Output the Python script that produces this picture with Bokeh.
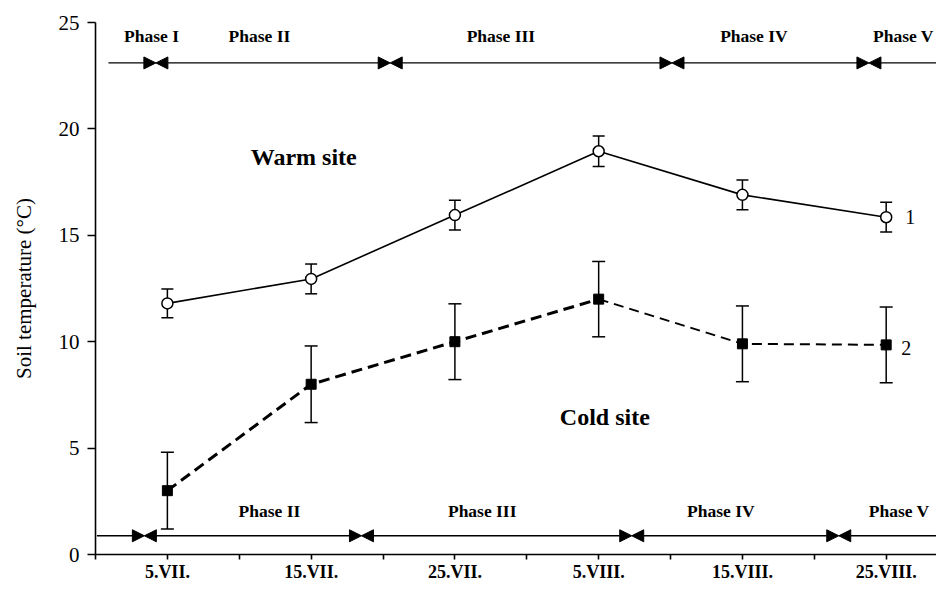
from bokeh.plotting import figure
from bokeh.models import (ColumnDataSource, Whisker, TeeHead, Arrow, NormalHead,
                          FixedTicker, Range1d, Label)
from bokeh.embed import file_html
from bokeh.resources import INLINE
from bokeh.core.properties import value

# ---- data ----
dates = ["5.VII.", "15.VII.", "25.VII.", "5.VIII.", "15.VIII.", "25.VIII."]
warm_mean = [11.8, 12.95, 15.95, 18.95, 16.9, 15.85]
warm_err = [0.68, 0.70, 0.70, 0.72, 0.70, 0.70]
cold_mean = [3.0, 8.0, 10.0, 12.0, 9.9, 9.85]
cold_err = [1.80, 1.80, 1.78, 1.77, 1.78, 1.78]

top_phase_names = ["Phase I", "Phase II", "Phase III", "Phase IV", "Phase V"]
top_phase_bounds = [-0.08, 1.55, 3.51, 4.88]
bottom_phase_names = ["Phase II", "Phase III", "Phase IV", "Phase V"]
bottom_phase_bounds = [-0.16, 1.35, 3.23, 4.67]
y_ticks = [0, 5, 10, 15, 20, 25]

x = list(range(len(dates)))
FONT = "Liberation Serif"

warm_src = ColumnDataSource(dict(
    x=x, y=warm_mean,
    upper=[m + e for m, e in zip(warm_mean, warm_err)],
    lower=[m - e for m, e in zip(warm_mean, warm_err)]))
cold_src = ColumnDataSource(dict(
    x=x, y=cold_mean,
    upper=[m + e for m, e in zip(cold_mean, cold_err)],
    lower=[m - e for m, e in zip(cold_mean, cold_err)]))

p = figure(width=936, height=584, x_range=Range1d(-0.5, 5.35), y_range=Range1d(0, 25),
           output_backend="svg", toolbar_location=None,
           min_border_left=95, min_border_right=0, min_border_top=22, min_border_bottom=28)
p.outline_line_color = None
p.grid.visible = False
p.background_fill_color = "white"

# axes
p.xaxis.ticker = FixedTicker(ticks=x, minor_ticks=[i - 0.5 for i in range(len(dates))])
p.xaxis.major_label_overrides = {i: d for i, d in enumerate(dates)}
p.xaxis.major_label_text_font = FONT
p.xaxis.major_label_text_font_style = "bold"
p.xaxis.major_label_text_font_size = "18px"
p.xaxis.major_label_text_color = "black"
p.xaxis.major_label_standoff = 2
p.xaxis.major_tick_out = 5
p.xaxis.major_tick_in = 0
p.xaxis.minor_tick_out = 5
p.xaxis.minor_tick_in = 0

p.yaxis.ticker = FixedTicker(ticks=y_ticks)
p.yaxis.major_label_text_font = FONT
p.yaxis.major_label_text_font_size = "21px"
p.yaxis.major_label_text_color = "black"
p.yaxis.major_label_standoff = 8
p.yaxis.major_tick_out = 8
p.yaxis.major_tick_in = 0
p.yaxis.minor_tick_out = 0
p.yaxis.minor_tick_in = 0
p.yaxis.axis_label = "Soil temperature (°C)"
p.yaxis.axis_label_text_font = FONT
p.yaxis.axis_label_text_font_style = "normal"
p.yaxis.axis_label_text_font_size = "21px"
p.yaxis.axis_label_text_color = "black"
p.yaxis.axis_label_standoff = 20

for ax in (p.xaxis, p.yaxis):
    ax.axis_line_color = "black"
    ax.axis_line_width = 1.6
    ax.major_tick_line_color = "black"
    ax.major_tick_line_width = 1.6
    ax.minor_tick_line_color = "black"
    ax.minor_tick_line_width = 1.6

# error bars
p.add_layout(Whisker(source=warm_src, base="x", upper="upper", lower="lower",
                     line_width=1.5, line_color="black",
                     upper_head=TeeHead(size=12, line_width=1.5, line_color="black"),
                     lower_head=TeeHead(size=12, line_width=1.5, line_color="black")))
p.add_layout(Whisker(source=cold_src, base="x", upper="upper", lower="lower",
                     line_width=1.5, line_color="black",
                     upper_head=TeeHead(size=13, line_width=1.5, line_color="black"),
                     lower_head=TeeHead(size=13, line_width=1.5, line_color="black")))

# series
p.line(x, warm_mean, line_color="black", line_width=1.6)
p.scatter(x="x", y="y", source=warm_src, marker="circle", size=11,
          fill_color="white", line_color="black", line_width=1.5)

p.line(x[:4], cold_mean[:4], line_color="black", line_width=3, line_dash="11 6")
p.line(x[3:], cold_mean[3:], line_color="black", line_width=2, line_dash="10 6")
p.scatter(x="x", y="y", source=cold_src, marker="square", size=10,
          fill_color="black", line_color="black")

# phase bars
def phase_bar(bounds, y, x0, x1):
    pts = [x0] + list(bounds) + [x1]
    n = len(pts) - 1
    for i in range(n):
        start = NormalHead(size=12, fill_color="black", line_color="black", line_width=1) if i > 0 else None
        end = NormalHead(size=12, fill_color="black", line_color="black", line_width=1) if i < n - 1 else None
        p.add_layout(Arrow(x_start=pts[i], y_start=y, x_end=pts[i + 1], y_end=y,
                           start=start, end=end, line_color="black", line_width=1.3))

phase_bar(top_phase_bounds, 23.1, -0.41, 5.35)
phase_bar(bottom_phase_bounds, 0.88, -0.49, 5.35)

top_label_x = [-0.11, 0.64, 2.32, 4.08, 5.12]
bottom_label_x = [0.71, 2.19, 3.85, 5.09]
p.text(x=top_label_x, y=[24.37] * len(top_phase_names), text=top_phase_names,
       text_font=value(FONT), text_font_style="bold", text_font_size="17.5px",
       text_align="center", text_baseline="alphabetic", text_color="black")
p.text(x=bottom_label_x, y=[2.06] * len(bottom_phase_names), text=bottom_phase_names,
       text_font=value(FONT), text_font_style="bold", text_font_size="17.5px",
       text_align="center", text_baseline="alphabetic", text_color="black")

# site labels
p.add_layout(Label(x=0.58, y=18.70, text="Warm site", text_font=FONT,
                   text_font_style="bold", text_font_size="24px",
                   text_baseline="alphabetic", text_color="black"))
p.add_layout(Label(x=2.73, y=6.48, text="Cold site", text_font=FONT,
                   text_font_style="bold", text_font_size="24px",
                   text_baseline="alphabetic", text_color="black"))
p.add_layout(Label(x=x[-1], y=warm_mean[-1], x_offset=19, text="1", text_font=FONT,
                   text_font_size="20px", text_baseline="middle", text_color="black"))
p.add_layout(Label(x=x[-1], y=cold_mean[-1], x_offset=15, y_offset=-3, text="2", text_font=FONT,
                   text_font_size="20px", text_baseline="middle", text_color="black"))

open("out.html", "w").write(file_html(p, INLINE))
